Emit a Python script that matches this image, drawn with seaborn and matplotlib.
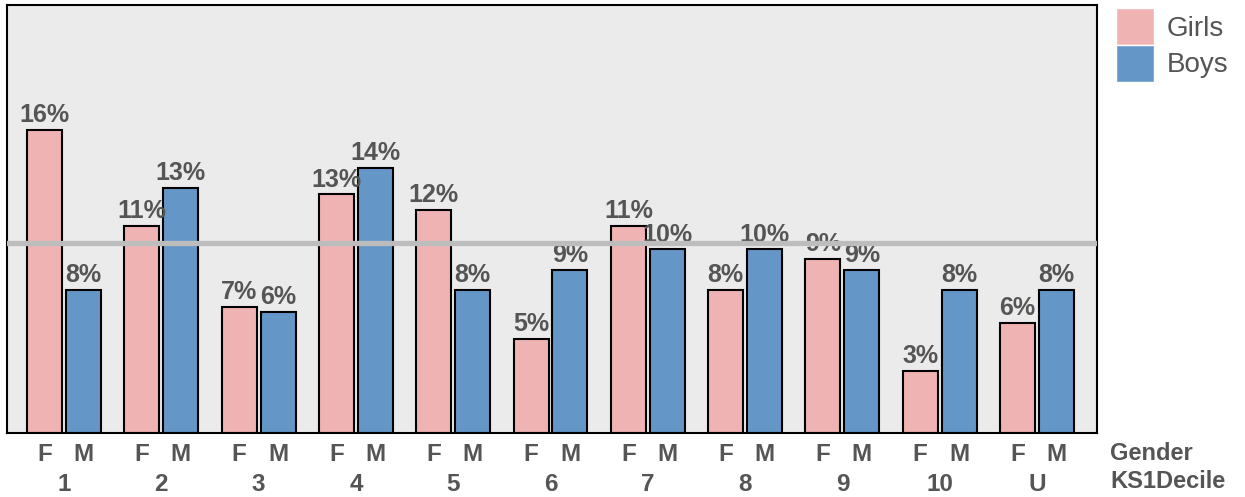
import matplotlib
matplotlib.use('Agg')
from matplotlib.patches import Patch

import matplotlib.pyplot as plt
import numpy as np
import pandas as pd
import seaborn as sns

deciles = ['1', '2', '3', '4', '5', '6', '7', '8', '9', '10', 'U']
girls_pct = [16.0, 10.95, 6.67, 12.6, 11.8, 4.97, 10.95, 7.55, 9.2, 3.3, 5.8]
boys_pct = [7.55, 12.96, 6.4, 14.0, 7.55, 8.6, 9.7, 9.7, 8.6, 7.55, 7.55]
overall_pct = 10.05
genders = ['F', 'M']
legend_labels = ['Girls', 'Boys']

GIRL_COLOR = '#F0B3B3'
BOY_COLOR = '#6497C8'
TEXT_COLOR = '#555555'


def main() -> None:
    df = pd.DataFrame({
        'KS1Decile': deciles * 2,
        'Gender': ['F'] * len(deciles) + ['M'] * len(deciles),
        'pct': girls_pct + boys_pct,
    })

    sns.set_style('white')
    plt.rcParams['font.family'] = ['Liberation Sans', 'DejaVu Sans']

    fig = plt.figure(figsize=(12.45, 4.97), dpi=100)
    ax = fig.add_axes([7 / 1245, 64 / 497, 1090 / 1245, 428 / 497])
    ax.set_facecolor('#EBEBEB')

    sns.barplot(data=df, x='KS1Decile', y='pct', hue='Gender',
                order=deciles, hue_order=genders,
                palette=[GIRL_COLOR, BOY_COLOR], saturation=1,
                width=0.8, gap=0.1,
                edgecolor='black', linewidth=1.5, legend=False, ax=ax)

    for cont in ax.containers:
        vals = [b.get_height() for b in cont]
        ax.bar_label(cont, labels=[f'{round(v)}%' for v in vals], padding=2,
                     fontsize=18, fontweight='bold', color=TEXT_COLOR,
                     zorder=3)

    # average line sits on top of the labels
    ax.axhline(overall_pct, color='#BDBDBD', linewidth=3.8, zorder=10)

    ax.set_ylim(0, 22.6)
    ax.set_xlim(-0.586, 10.617)
    ax.set_yticks([])
    ax.set_xlabel('')
    ax.set_ylabel('')

    pos = np.arange(len(deciles))
    ax.set_xticks(pos)
    ax.set_xticklabels(deciles)
    ax.set_xticks(np.concatenate([pos - 0.2, pos + 0.2]), minor=True)
    ax.set_xticklabels(['F'] * len(deciles) + ['M'] * len(deciles),
                       minor=True)
    ax.tick_params(axis='x', which='minor', length=0, pad=7, labelsize=17.5,
                   labelcolor=TEXT_COLOR)
    ax.tick_params(axis='x', which='major', length=0, pad=29, labelsize=17.5,
                   labelcolor=TEXT_COLOR)
    for lab in ax.get_xticklabels(minor=True) + ax.get_xticklabels():
        lab.set_fontweight('bold')

    for sp in ax.spines.values():
        sp.set_visible(True)
        sp.set_color('black')
        sp.set_linewidth(1.5)

    fig.text(1110 / 1245, 1 - 453 / 497, 'Gender', fontsize=17,
             fontweight='bold', color=TEXT_COLOR, va='center', ha='left')
    fig.text(1110 / 1245, 1 - 481 / 497, 'KS1Decile', fontsize=17,
             fontweight='bold', color=TEXT_COLOR, va='center', ha='left')

    handles = [Patch(facecolor=GIRL_COLOR), Patch(facecolor=BOY_COLOR)]
    leg = fig.legend(handles, legend_labels, loc='upper left',
                     bbox_to_anchor=(1116 / 1245, 1 - 8 / 497),
                     frameon=False, fontsize=20, labelspacing=0,
                     handlelength=1.37, handleheight=1.67, handletextpad=0.45,
                     borderpad=0, borderaxespad=0)
    for t in leg.get_texts():
        t.set_color(TEXT_COLOR)

    fig.savefig('out.png', dpi=100)


if __name__ == '__main__':
    main()
